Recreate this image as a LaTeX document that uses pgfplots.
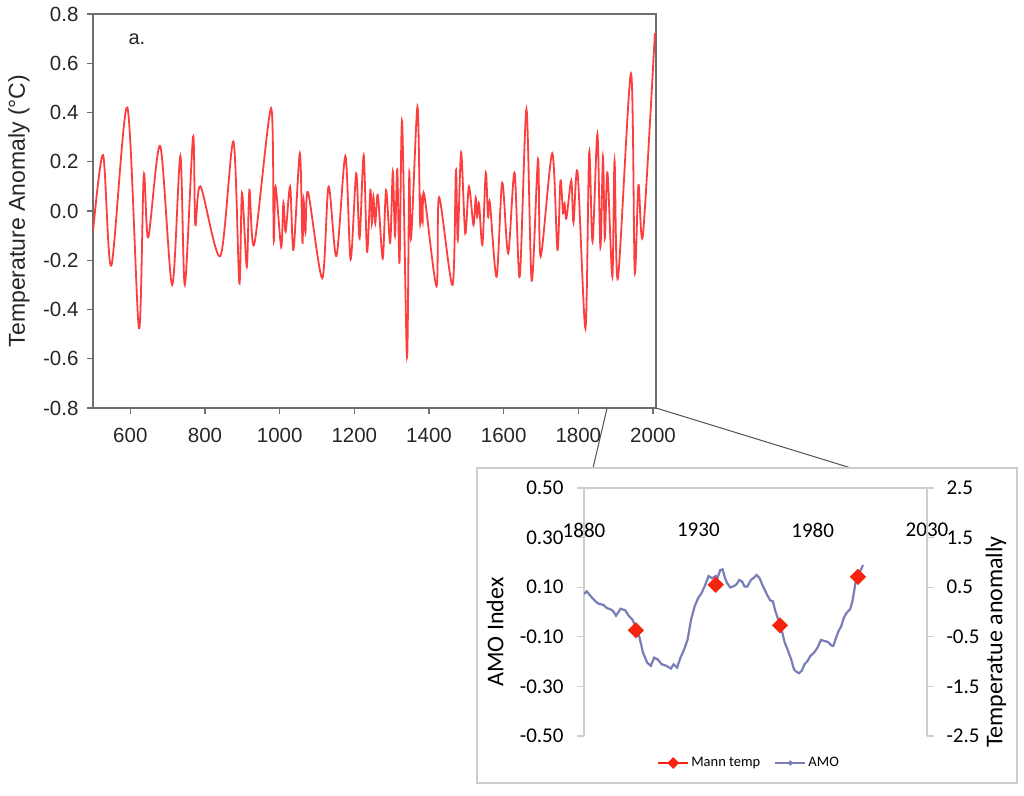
\documentclass[border=0pt]{standalone}
\usepackage{pgfplots}
\pgfplotsset{compat=1.18}
\usepackage{fontspec}
\setmainfont{Liberation Sans}
\newfontfamily\carlito{Carlito}
\definecolor{redline}{RGB}{252,62,62}
\definecolor{amo}{RGB}{122,126,182}
\definecolor{mann}{RGB}{245,35,15}
\definecolor{framea}{RGB}{110,110,110}
\definecolor{frameb}{RGB}{205,205,205}
\definecolor{conn}{RGB}{80,80,80}

\pgfplotstableread{
year val
500 -0.085
527 0.227
549 -0.222
592 0.42
623 -0.476
636 0.146
648 -0.107
680 0.264
712 -0.30
734 0.223
746 -0.30
768 0.302
774 -0.057
788 0.10
841 -0.183
876 0.282
892 -0.294
899 0.074
912 -0.226
919 0.085
932 -0.135
977 0.417
984 -0.118
989 0.099
1004 -0.146
1010 0.035
1016 -0.084
1028 0.099
1037 -0.158
1054 0.234
1061 -0.129
1064 0.045
1069 -0.087
1076 0.076
1114 -0.273
1131 0.099
1152 -0.183
1176 0.223
1190 -0.196
1205 0.153
1214 -0.111
1225 0.227
1234 -0.165
1243 0.085
1247 -0.05
1251 0.058
1256 -0.05
1263 0.065
1276 -0.192
1285 0.085
1296 -0.129
1303 0.16
1309 -0.10
1315 0.169
1321 -0.21
1328 0.363
1341 -0.594
1347 0.15
1352 -0.111
1369 0.424
1376 -0.043
1379 0.045
1383 -0.043
1387 0.069
1420 -0.305
1427 0.055
1463 -0.30
1472 0.166
1477 -0.118
1486 0.237
1497 -0.091
1507 0.099
1519 -0.057
1525 0.054
1529 -0.023
1534 0.031
1543 -0.138
1552 0.156
1558 -0.023
1563 0.034
1581 -0.267
1596 0.115
1612 -0.172
1629 0.156
1643 -0.267
1661 0.413
1675 -0.283
1692 0.21
1699 -0.185
1730 0.234
1744 -0.158
1752 0.123
1759 -0.009
1763 0.031
1768 -0.03
1781 0.123
1787 -0.047
1798 0.156
1819 -0.477
1829 0.237
1838 -0.125
1851 0.313
1859 -0.148
1866 0.221
1871 -0.111
1878 0.156
1891 -0.267
1897 0.204
1906 -0.273
1941 0.559
1951 -0.246
1961 0.106
1973 -0.097
2005 0.722
}\tempA

\pgfplotstableread{
year val
1880 0.073
1881.2 0.083
1883 0.063
1885 0.043
1886.4 0.033
1888.4 0.029
1890 0.016
1892 0.009
1893 0.0
1894 -0.015
1896 0.013
1898 0.007
1899.7 -0.017
1901.2 -0.031
1902.7 -0.064
1904.3 -0.104
1905.8 -0.164
1907.6 -0.204
1909.2 -0.217
1910.7 -0.184
1912.2 -0.191
1914 -0.211
1916 -0.217
1918 -0.228
1919.2 -0.211
1920.7 -0.224
1922.2 -0.184
1923.8 -0.151
1925.3 -0.111
1926.8 -0.031
1928.4 0.023
1929.9 0.056
1931.4 0.076
1933 0.109
1934.5 0.145
1936 0.136
1937.6 0.145
1938.3 0.136
1939.6 0.169
1940.6 0.172
1941.7 0.136
1942.6 0.116
1944 0.099
1945.7 0.105
1946.8 0.113
1947.9 0.129
1949.1 0.123
1950.2 0.103
1951.4 0.103
1953 0.129
1954.5 0.140
1955.5 0.149
1956.8 0.136
1958.3 0.103
1960.1 0.069
1961.4 0.047
1962.6 0.043
1963.7 0.003
1964.7 -0.024
1966.3 -0.068
1967.8 -0.124
1969 -0.151
1970.6 -0.191
1971.8 -0.231
1972.9 -0.241
1974 -0.247
1975.2 -0.237
1976.4 -0.211
1977.8 -0.197
1979 -0.177
1980.6 -0.164
1982.1 -0.144
1983.6 -0.113
1985.2 -0.117
1986.7 -0.121
1988.2 -0.135
1989 -0.137
1990.2 -0.104
1991.3 -0.077
1992.5 -0.057
1993.6 -0.024
1994.8 -0.004
1996.4 0.012
1997.4 0.043
1998.7 0.116
1999.8 0.145
2001 0.169
2002 0.189
}\amo

\pgfplotstableread{
year val
1902.7 -0.37
1937.6 0.55
1965.7 -0.27
1999.8 0.71
}\mann

\begin{document}
\begin{tikzpicture}[x=1bp,y=1bp]
\useasboundingbox (0,0) rectangle (1024,796);
% ---------- panel a ----------
\begin{axis}[name=A, at={(93bp,388bp)}, anchor=south west,
  scale only axis, width=563bp, height=394bp,
  xmin=500, xmax=2008, ymin=-0.8, ymax=0.8,
  xtick={600,800,1000,1200,1400,1600,1800,2000},
  xticklabels={600,800,1000,1200,1400,1600,1800,2000},
  ytick={-0.8,-0.6,-0.4,-0.2,0,0.2,0.4,0.6,0.8},
  yticklabels={-0.8,-0.6,-0.4,-0.2,0.0,0.2,0.4,0.6,0.8},
  tick pos=left, tick align=outside, major tick length=6bp,
  axis line style={framea, line width=1.3bp},
  tick style={framea, line width=1.3bp},
  ticklabel style={font=\fontsize{20.5bp}{23bp}\selectfont, text=black!85},
  xticklabel style={yshift=-11bp},
  yticklabel style={xshift=-5bp},
  ylabel={Temperature Anomaly (°C)},
  every axis y label/.style={at={(axis description cs:-0.1314,0.5)}, rotate=90, anchor=center},
  ylabel style={font=\fontsize{23bp}{26bp}\selectfont, text=black!85},
]
\addplot[redline, line width=1.8bp, smooth, tension=0.5] table[x=year, y=val] {\tempA};
\node[font=\fontsize{20bp}{22bp}\selectfont, text=black!85] at (axis description cs:0.078,0.9365) {a.};
\coordinate (c1) at (axis cs:1877,-0.8);
\end{axis}
\draw[conn, line width=1bp] (c1) -- (593,328);
\draw[conn, line width=1bp] (A.south east) -- (851,328);
% ---------- panel b frame ----------
\draw[frameb, line width=1.3bp, fill=white] (477,13) rectangle (1017,328);
% ---------- panel b left axis ----------
\begin{axis}[name=B, at={(584bp,60bp)}, anchor=south west,
  scale only axis, width=343bp, height=248bp,
  xmin=1880, xmax=2030, ymin=-0.5, ymax=0.5,
  axis x line*=top, axis y line*=left,
  xtick={1880,1930,1980,2030}, xticklabels={1880,1930,1980,2030},
  ytick={-0.5,-0.3,-0.1,0.1,0.3,0.5},
  yticklabels={-0.50,-0.30,-0.10,0.10,0.30,0.50},
  tick align=outside, major tick length=7bp,
  axis line style={frameb, line width=1.1bp},
  tick style={frameb, line width=1.1bp},
  x tick style={draw=none},
  ticklabel style={font=\carlito\fontsize{21bp}{24bp}\selectfont},
  xticklabel style={anchor=center, yshift=-49bp},
  yticklabel style={xshift=-10bp},
  ylabel={AMO Index},
  every axis y label/.style={at={(axis description cs:-0.2595,0.419)}, rotate=90, anchor=center},
  ylabel style={font=\carlito\fontsize{24bp}{26bp}\selectfont},
]
\addplot[amo, line width=2.2bp] table[x=year, y=val] {\amo};
\draw[frameb, line width=1.1bp] (axis cs:1930,0.5) -- ++(0,-5bp);
\draw[frameb, line width=1.1bp] (axis cs:1980,0.5) -- ++(0,-5bp);
\node[font=\carlito\fontsize{20bp}{22bp}\selectfont] at (axis description cs:-0.2595,0.887) {b.};
\end{axis}
% ---------- panel b right axis ----------
\begin{axis}[at={(584bp,60bp)}, anchor=south west,
  scale only axis, width=343bp, height=248bp,
  xmin=1880, xmax=2030, ymin=-2.5, ymax=2.5,
  axis y line*=right, axis x line=none,
  ytick={-2.5,-1.5,-0.5,0.5,1.5,2.5},
  yticklabels={-2.5,-1.5,-0.5,0.5,1.5,2.5},
  tick align=outside, major tick length=7bp,
  axis line style={frameb, line width=1.1bp},
  tick style={frameb, line width=1.1bp},
  ticklabel style={font=\carlito\fontsize{21bp}{24bp}\selectfont},
  yticklabel style={xshift=9bp},
  ylabel={Temperatue anomally},
  every axis y label/.style={at={(axis description cs:1.201,0.379)}, rotate=90, anchor=center},
  ylabel style={font=\carlito\fontsize{24bp}{26bp}\selectfont},
  legend columns=2,
  legend image code/.code={\draw[#1, mark repeat=2, mark phase=2] plot coordinates {(0bp,0bp)(15bp,0bp)(30bp,0bp)};},
  legend style={at={(axis description cs:0.481,-0.109)}, anchor=center, draw=none, fill=none,
    font=\carlito\fontsize{14.5bp}{16bp}\selectfont, inner sep=0pt,
    /tikz/every even column/.append style={column sep=12bp}},
]
\addlegendimage{mann, line width=2.2bp, mark=square*, mark size=3bp, mark options={rotate=45, fill=mann, draw=mann}}
\addlegendentry{Mann temp}
\addlegendimage{amo, line width=2.2bp, mark=*, mark size=1.2bp}
\addlegendentry{AMO}
\addplot[only marks, mark=square*, mark size=5.5bp, mark options={rotate=45, fill=mann, draw=mann}, forget plot] table[x=year, y=val] {\mann};
\end{axis}
\end{tikzpicture}
\end{document}
